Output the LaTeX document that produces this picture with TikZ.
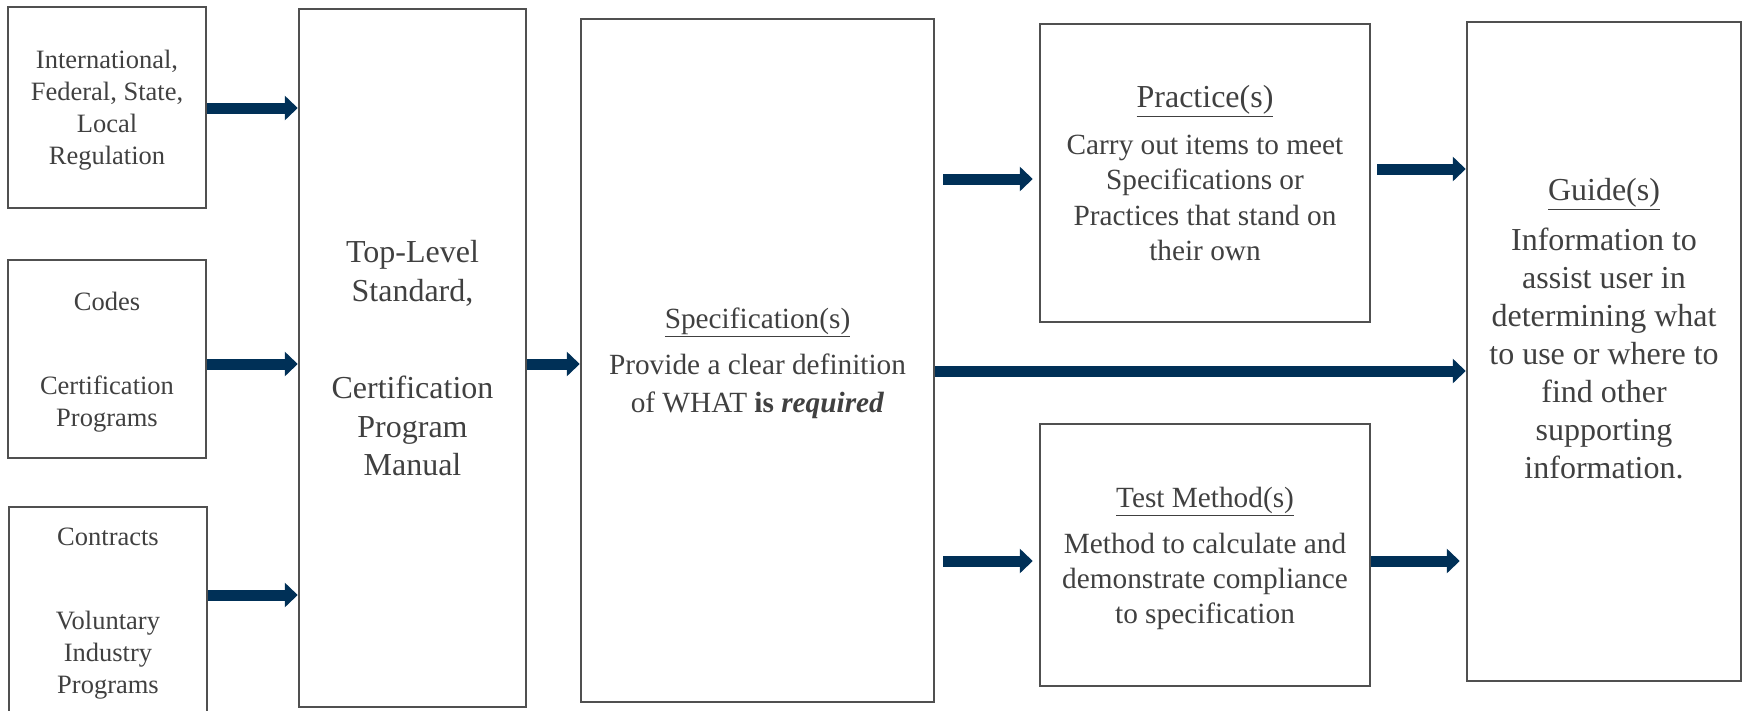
\documentclass[tikz,border=0pt]{standalone}
\usepackage{fontspec}
\setmainfont{Liberation Serif}
\usetikzlibrary{arrows.meta}
\definecolor{boxgray}{RGB}{80,80,80}
\definecolor{textgray}{RGB}{64,64,64}
\definecolor{navy}{RGB}{0,48,87}

\begin{document}
\begin{tikzpicture}[x=1pt, y=-1pt,
    box/.style={draw=boxgray, line width=2.5pt, rectangle, inner sep=0pt, align=center, text=textgray},
    flow/.style={draw=navy, line width=11pt, -{Triangle[width=24pt, length=13pt]}}]
  \useasboundingbox (0,0) rectangle (1744,710);

  \draw (107,107.5) node [box, minimum width=198pt, minimum height=201pt, text depth=-8.5pt, font=\fontsize{26.5}{32}\selectfont] (regs) {International,\\ Federal, State,\\ Local\\ Regulation};
  \draw (107,359) node [box, minimum width=198pt, minimum height=198pt, text depth=-8.5pt, font=\fontsize{26.5}{32}\selectfont] (codes) {Codes\\[52pt] Certification\\ Programs};
  \draw (108,611) node [box, minimum width=198pt, minimum height=208pt, text depth=-3pt, font=\fontsize{26.5}{32}\selectfont] (contracts) {Contracts\\[52pt] Voluntary\\ Industry\\ Programs};
  \draw (412.5,358) node [box, minimum width=227pt, minimum height=698pt, text depth=-12pt, font=\fontsize{32}{38.5}\selectfont] (top) {Top-Level\\ Standard,\\[59pt] Certification\\ Program\\ Manual};
  \draw (757.5,360.5) node [box, minimum width=353pt, minimum height=683pt, text depth=-4.6pt, font=\fontsize{29.3}{38}\selectfont] (spec) {\underline{Specification(s)}\\[8pt] Provide a clear definition\\ of WHAT \textbf{is} \textbf{\textit{required}}};
  \draw (1205,173) node [box, minimum width=330pt, minimum height=298pt, text depth=-11.5pt, font=\fontsize{29.3}{35.5}\selectfont] (practice) {{\fontsize{32}{35.5}\selectfont\underline{Practice(s)}}\\[11pt] Carry out items to meet\\ Specifications or\\ Practices that stand on\\ their own};
  \draw (1205,555) node [box, minimum width=330pt, minimum height=262pt, text depth=-8.6pt, font=\fontsize{29.3}{35}\selectfont] (test) {\underline{Test Method(s)}\\[11pt] Method to calculate and\\ demonstrate compliance\\ to specification};
  \draw (1604,351.5) node [box, minimum width=274pt, minimum height=659pt, text depth=45.4pt, font=\fontsize{32}{38}\selectfont] (guide) {\underline{Guide(s)}\\[12pt] Information to\\ assist user in\\ determining what\\ to use or where to\\ find other\\ supporting\\ information.};

  \draw[flow] (regs.east |- 0,108) -- (top.west |- 0,108);
  \draw[flow] (codes.east |- 0,364) -- (top.west |- 0,364);
  \draw[flow] (contracts.east |- 0,595) -- (top.west |- 0,595);
  \draw[flow] (top.east |- 0,364) -- (spec.west |- 0,364);
  \draw[flow] ([xshift=8pt]spec.east |- 0,179) -- ([xshift=-6pt]practice.west |- 0,179);
  \draw[flow] (spec.east |- 0,371) -- (guide.west |- 0,371);
  \draw[flow] ([xshift=8pt]spec.east |- 0,561) -- ([xshift=-6pt]test.west |- 0,561);
  \draw[flow] ([xshift=6pt]practice.east |- 0,169) -- (guide.west |- 0,169);
  \draw[flow] (test.east |- 0,561) -- ([xshift=-6pt]guide.west |- 0,561);
\end{tikzpicture}
\end{document}
